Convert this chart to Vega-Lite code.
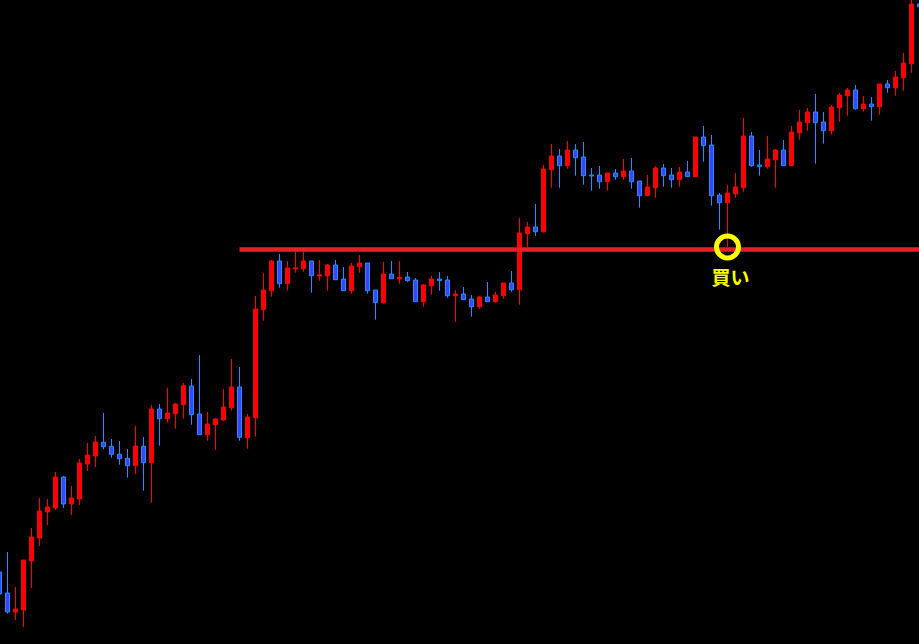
{
  "$schema": "https://vega.github.io/schema/vega-lite/v6.json",
  "width": 919,
  "height": 644,
  "padding": 0,
  "autosize": {"type": "none"},
  "background": "#000000",
  "config": {"view": {"stroke": null}},
  "datasets": {
    "candles": [
      {"i": -1, "open": 72, "high": 74, "low": 48, "close": 50},
      {"i": 0, "open": 51, "high": 92, "low": 30.5, "close": 32},
      {"i": 1, "open": 32, "high": 57, "low": 24, "close": 35},
      {"i": 2, "open": 34, "high": 84, "low": 17, "close": 84},
      {"i": 3, "open": 83, "high": 116, "low": 56, "close": 107},
      {"i": 4, "open": 106, "high": 146, "low": 98, "close": 133},
      {"i": 5, "open": 132, "high": 145, "low": 119, "close": 137},
      {"i": 6, "open": 136, "high": 172, "low": 134, "close": 167},
      {"i": 7, "open": 167, "high": 168, "low": 136, "close": 140},
      {"i": 8, "open": 140, "high": 158, "low": 129, "close": 146},
      {"i": 9, "open": 145, "high": 185, "low": 139, "close": 181},
      {"i": 10, "open": 180, "high": 201, "low": 173, "close": 189},
      {"i": 11, "open": 188, "high": 208, "low": 177, "close": 202},
      {"i": 12, "open": 201.7, "high": 231, "low": 194.7, "close": 197.3},
      {"i": 13, "open": 197.7, "high": 205, "low": 186.3, "close": 189.7},
      {"i": 14, "open": 189.7, "high": 203, "low": 179.3, "close": 185.3},
      {"i": 15, "open": 185.7, "high": 195, "low": 166.3, "close": 178.3},
      {"i": 16, "open": 178.3, "high": 218, "low": 170.3, "close": 198},
      {"i": 17, "open": 197.7, "high": 207, "low": 153.3, "close": 181.3},
      {"i": 18, "open": 181.3, "high": 239, "low": 141.3, "close": 235},
      {"i": 19, "open": 235, "high": 240, "low": 198.3, "close": 225.3},
      {"i": 20, "open": 225.3, "high": 256.3, "low": 221.3, "close": 231},
      {"i": 21, "open": 230.3, "high": 241, "low": 215.3, "close": 240},
      {"i": 22, "open": 239.3, "high": 261, "low": 225.3, "close": 258.3},
      {"i": 23, "open": 258, "high": 265, "low": 219.3, "close": 229.3},
      {"i": 24, "open": 230, "high": 289, "low": 209.3, "close": 209.3},
      {"i": 25, "open": 209.3, "high": 232, "low": 203.3, "close": 220},
      {"i": 26, "open": 219.3, "high": 226, "low": 194.3, "close": 225},
      {"i": 27, "open": 224, "high": 255, "low": 223, "close": 237},
      {"i": 28, "open": 236.3, "high": 285, "low": 233.3, "close": 257},
      {"i": 29, "open": 257, "high": 277, "low": 203.3, "close": 206.7},
      {"i": 30, "open": 206.3, "high": 230, "low": 195.3, "close": 227},
      {"i": 31, "open": 226.3, "high": 348, "low": 207.3, "close": 335},
      {"i": 32, "open": 334.3, "high": 371, "low": 323.3, "close": 354},
      {"i": 33, "open": 353.3, "high": 384, "low": 347.3, "close": 383},
      {"i": 34, "open": 383, "high": 390, "low": 356.3, "close": 360.3},
      {"i": 35, "open": 360.3, "high": 383, "low": 353.3, "close": 376},
      {"i": 36, "open": 375, "high": 392.3, "low": 371.3, "close": 376.2},
      {"i": 37, "open": 375.3, "high": 392.3, "low": 372.3, "close": 383},
      {"i": 38, "open": 383, "high": 383, "low": 351.3, "close": 368.3},
      {"i": 39, "open": 368, "high": 384, "low": 363.3, "close": 369.2},
      {"i": 40, "open": 368.3, "high": 380, "low": 353.3, "close": 379},
      {"i": 41, "open": 379, "high": 384, "low": 364.3, "close": 364.3},
      {"i": 42, "open": 365, "high": 377, "low": 353.3, "close": 353.3},
      {"i": 43, "open": 353.3, "high": 381, "low": 350.3, "close": 378},
      {"i": 44, "open": 377.3, "high": 389, "low": 371.3, "close": 381},
      {"i": 45, "open": 381, "high": 381, "low": 350.3, "close": 353.3},
      {"i": 46, "open": 354, "high": 354, "low": 324.3, "close": 341.3},
      {"i": 47, "open": 341.3, "high": 382, "low": 340.3, "close": 370},
      {"i": 48, "open": 370, "high": 383, "low": 365.3, "close": 365.3},
      {"i": 49, "open": 365, "high": 383, "low": 360.3, "close": 366.7},
      {"i": 50, "open": 367, "high": 372, "low": 362.3, "close": 363.3},
      {"i": 51, "open": 364, "high": 366, "low": 342.3, "close": 342.3},
      {"i": 52, "open": 342.3, "high": 360, "low": 337.3, "close": 359},
      {"i": 53, "open": 358.3, "high": 368, "low": 349.3, "close": 365},
      {"i": 54, "open": 365, "high": 372, "low": 353.3, "close": 363.3},
      {"i": 55, "open": 364, "high": 368, "low": 346.3, "close": 348.3},
      {"i": 56, "open": 348.3, "high": 354, "low": 322.3, "close": 350},
      {"i": 57, "open": 350, "high": 357, "low": 344.3, "close": 344.3},
      {"i": 58, "open": 345, "high": 349, "low": 327.3, "close": 337.3},
      {"i": 59, "open": 337.3, "high": 348, "low": 335.3, "close": 347},
      {"i": 60, "open": 347, "high": 362, "low": 342.3, "close": 342.3},
      {"i": 61, "open": 342.3, "high": 352, "low": 341.3, "close": 349},
      {"i": 62, "open": 348.3, "high": 361, "low": 345.3, "close": 361},
      {"i": 63, "open": 361, "high": 373, "low": 352.3, "close": 354.3},
      {"i": 64, "open": 354.3, "high": 426, "low": 339.3, "close": 411},
      {"i": 65, "open": 410.3, "high": 422, "low": 397, "close": 417},
      {"i": 66, "open": 417, "high": 440, "low": 408, "close": 412.3},
      {"i": 67, "open": 412.3, "high": 479, "low": 411.3, "close": 475},
      {"i": 68, "open": 474.3, "high": 500, "low": 456.3, "close": 488},
      {"i": 69, "open": 488, "high": 495, "low": 456.3, "close": 478.3},
      {"i": 70, "open": 478.3, "high": 503, "low": 475.3, "close": 494},
      {"i": 71, "open": 494, "high": 500, "low": 468.3, "close": 486.3},
      {"i": 72, "open": 487, "high": 502, "low": 459.3, "close": 468.3},
      {"i": 73, "open": 469, "high": 476, "low": 453.3, "close": 468},
      {"i": 74, "open": 469, "high": 478, "low": 455.3, "close": 462.3},
      {"i": 75, "open": 462.3, "high": 471, "low": 453.3, "close": 471},
      {"i": 76, "open": 471, "high": 475, "low": 464.3, "close": 467.3},
      {"i": 77, "open": 467.3, "high": 485, "low": 464.3, "close": 473},
      {"i": 78, "open": 473, "high": 486, "low": 455.3, "close": 462.3},
      {"i": 79, "open": 463, "high": 463, "low": 436.3, "close": 448.3},
      {"i": 80, "open": 448.3, "high": 469, "low": 448.3, "close": 457},
      {"i": 81, "open": 456.3, "high": 478, "low": 446.3, "close": 476},
      {"i": 82, "open": 476, "high": 480, "low": 457.3, "close": 468.3},
      {"i": 83, "open": 469, "high": 476, "low": 456.3, "close": 464.3},
      {"i": 84, "open": 464.3, "high": 477, "low": 457.3, "close": 472},
      {"i": 85, "open": 472, "high": 483, "low": 467.3, "close": 467.3},
      {"i": 86, "open": 467.3, "high": 507, "low": 467.3, "close": 507},
      {"i": 87, "open": 507, "high": 518, "low": 482.3, "close": 498.3},
      {"i": 88, "open": 499, "high": 509, "low": 438.3, "close": 448.3},
      {"i": 89, "open": 449, "high": 451, "low": 414.3, "close": 441.3},
      {"i": 90, "open": 441.3, "high": 459, "low": 397, "close": 451},
      {"i": 91, "open": 450.3, "high": 471, "low": 446.3, "close": 457},
      {"i": 92, "open": 456.3, "high": 526, "low": 452.3, "close": 508},
      {"i": 93, "open": 508, "high": 512, "low": 477.3, "close": 478.3},
      {"i": 94, "open": 479, "high": 494, "low": 468.3, "close": 477.3},
      {"i": 95, "open": 477.3, "high": 508, "low": 475.3, "close": 485},
      {"i": 96, "open": 484.3, "high": 495, "low": 456.3, "close": 494},
      {"i": 97, "open": 494, "high": 504, "low": 478.3, "close": 478.3},
      {"i": 98, "open": 478.3, "high": 518, "low": 478.3, "close": 512},
      {"i": 99, "open": 511.3, "high": 534, "low": 504.3, "close": 522},
      {"i": 100, "open": 521.3, "high": 536, "low": 513.3, "close": 532},
      {"i": 101, "open": 532, "high": 550, "low": 480.3, "close": 521.3},
      {"i": 102, "open": 522, "high": 532, "low": 500.3, "close": 513.3},
      {"i": 103, "open": 513.3, "high": 539, "low": 509.3, "close": 537},
      {"i": 104, "open": 536.3, "high": 551, "low": 522.3, "close": 549},
      {"i": 105, "open": 548.3, "high": 556, "low": 528.3, "close": 554},
      {"i": 106, "open": 554, "high": 559, "low": 534.3, "close": 535.3},
      {"i": 107, "open": 535.3, "high": 548, "low": 532.3, "close": 540},
      {"i": 108, "open": 540, "high": 547, "low": 523.3, "close": 537.3},
      {"i": 109, "open": 537.3, "high": 560, "low": 529.3, "close": 560},
      {"i": 110, "open": 560, "high": 564, "low": 551.3, "close": 556.3},
      {"i": 111, "open": 556.3, "high": 573, "low": 548.3, "close": 567},
      {"i": 112, "open": 566.3, "high": 591, "low": 553.3, "close": 581},
      {"i": 113, "open": 580.3, "high": 644, "low": 571.3, "close": 640},
      {"i": 114, "open": 640, "high": 642, "low": 635, "close": 637.3}
    ],
    "levels": [
      {"from": 29, "to": 114.5, "price": 394.6}
    ],
    "signals": [
      {"i": 90, "price": 397, "label": "買い"}
    ]
  },
  "encoding": {
    "x": {
      "field": "i",
      "type": "quantitative",
      "scale": {"domain": [-0.9375, 113.9375], "nice": false, "zero": false, "padding": 0},
      "axis": null
    }
  },
  "layer": [
    {
      "data": {"name": "candles"},
      "mark": {"type": "rule", "strokeWidth": 1, "clip": true},
      "encoding": {
        "y": {
          "field": "low",
          "type": "quantitative",
          "scale": {"domain": [0, 644], "nice": false, "zero": false, "padding": 0},
          "axis": null
        },
        "y2": {"field": "high"},
        "color": {
          "condition": {"test": "datum.close >= datum.open", "value": "#FF0000"},
          "value": "#1E90FF"
        }
      }
    },
    {
      "data": {"name": "candles"},
      "mark": {"type": "bar", "width": 4, "strokeWidth": 1, "clip": true},
      "encoding": {
        "y": {"field": "open", "type": "quantitative"},
        "y2": {"field": "close"},
        "fill": {
          "condition": {"test": "datum.close >= datum.open", "value": "#FF0000"},
          "value": "#3F44FF"
        },
        "stroke": {
          "condition": {"test": "datum.close >= datum.open", "value": "#FF0000"},
          "value": "#1E90FF"
        }
      }
    },
    {
      "data": {"name": "levels"},
      "mark": {"type": "rule", "color": "#EE1C25", "strokeWidth": 4.5, "clip": true},
      "encoding": {
        "x": {"field": "from", "type": "quantitative"},
        "x2": {"field": "to"},
        "y": {"field": "price", "type": "quantitative"}
      }
    },
    {
      "data": {"name": "signals"},
      "mark": {
        "type": "point",
        "shape": "circle",
        "filled": false,
        "size": 484,
        "strokeWidth": 5,
        "color": "#FFFF00",
        "opacity": 1
      },
      "encoding": {
        "y": {"field": "price", "type": "quantitative"}
      }
    },
    {
      "data": {"name": "signals"},
      "mark": {
        "type": "text",
        "font": "Noto Sans CJK JP",
        "fontSize": 19,
        "fontWeight": "bold",
        "color": "#FFFF00",
        "align": "center",
        "baseline": "middle",
        "dx": 3,
        "dy": 32
      },
      "encoding": {
        "y": {"field": "price", "type": "quantitative"},
        "text": {"field": "label"}
      }
    }
  ]
}
